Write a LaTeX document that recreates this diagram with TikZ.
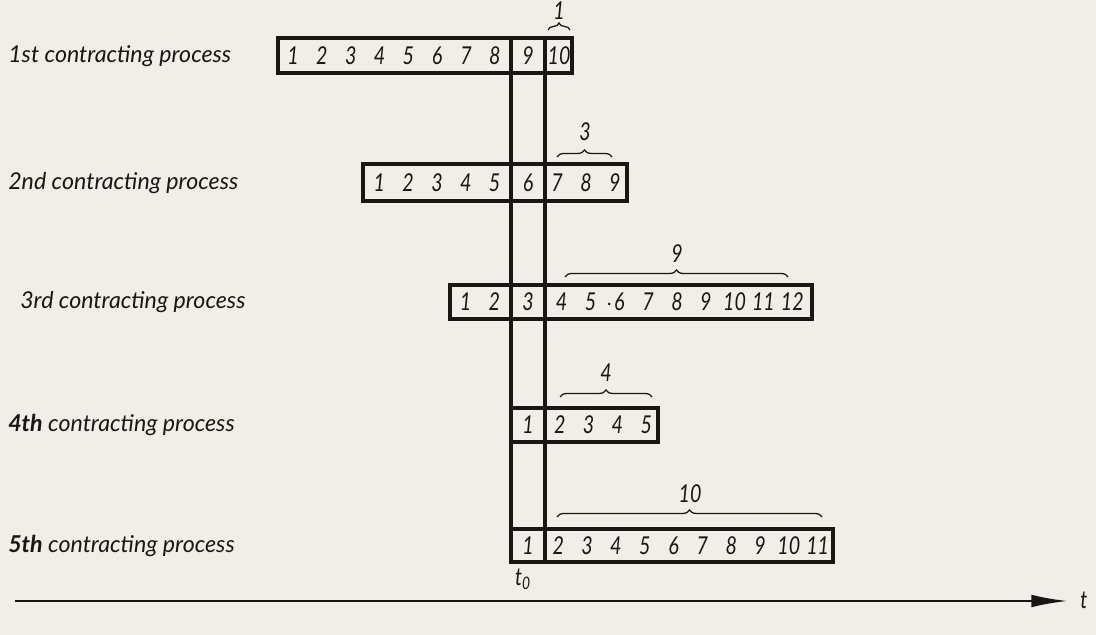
\documentclass[tikz,border=0pt]{standalone}
\usepackage{fontspec}
\setmainfont{Lato}
\newfontfamily\numfam[FakeStretch=0.8]{Lato}
\usetikzlibrary{arrows.meta,decorations.pathreplacing}
\definecolor{paper}{RGB}{241,238,231}
\definecolor{ink}{RGB}{25,22,22}
\newcommand\numf{\numfam\fontsize{17.5}{19}\selectfont\itshape}
\newcommand\lblf{\fontsize{16.5}{19}\selectfont\itshape}
\newcommand\seq[1]{\foreach \d in {#1}{\makebox[20.5pt]{\d}}}
\newcommand\dotsix{\makebox[0pt][r]{$\cdot$\hspace{1pt}}6}
\tikzset{
  rowlbl/.style={anchor=west,inner sep=0pt,font=\lblf,text=ink},
  cellbox/.style={draw=ink,line width=2.5pt},
  tline/.style={draw=ink,line width=2.3pt},
  num/.style={inner sep=0pt,font=\numf,text=ink},
  brc/.style={draw=ink,line width=0.9pt,decorate,decoration={brace,amplitude=5pt}},
  cnt/.style={inner sep=0pt,font=\numf,text=ink},
  axisarr/.style={draw=ink,line width=1.9pt,-{Latex[length=26pt,width=9pt]}}
}
\begin{document}
\begin{tikzpicture}[x=0.025cm,y=-0.025cm]
  \fill[paper] (0,0) rectangle (1096,635);
  \useasboundingbox (0,0) rectangle (1096,635);
  % row labels
  \node[rowlbl] (l1) at (8,56) {1st contracting process};
  \node[rowlbl] (l2) at (8,183) {2nd contracting process};
  \node[rowlbl] (l3) at (20,302) {3rd contracting process};
  \node[rowlbl] (l4) at (8,425) {\textbf{4th} contracting process};
  \node[rowlbl] (l5) at (8,546) {\textbf{5th} contracting process};
  % boxes
  \draw[cellbox] (278,38) rectangle (572,73);
  \draw[cellbox] (363,164) rectangle (627,201);
  \draw[cellbox] (450,285) rectangle (812,319);
  \draw[cellbox] (511,408) rectangle (658,442);
  \draw[cellbox] (511,529) rectangle (833,562);
  % the t0 column
  \draw[tline] (511,38) -- (511,562);
  \draw[tline] (545,38) -- (545,562);
  % cell contents
  \node[num] (a1) at (394,56) {\seq{1,2,3,4,5,6,7,8}};
  \node[num] (a2) at (528,56) {9};
  \node[num] (a3) at (559,56) {10};
  \node[num] (b1) at (437,183) {\seq{1,2,3,4,5}};
  \node[num] (b2) at (528,183) {6};
  \node[num] (b3) at (586,183) {\seq{7,8,9}};
  \node[num] (c1) at (480,302) {\seq{1,2}};
  \node[num] (c2) at (528,302) {3};
  \node[num] (c3) at (677,302) {\seq{4,5,\dotsix,7,8,9,10,11,12}};
  \node[num] (d1) at (528,425) {1};
  \node[num] (d2) at (603,425) {\seq{2,3,4,5}};
  \node[num] (e1) at (528,546) {1};
  \node[num] (e2) at (688,546) {\seq{2,3,4,5,6,7,8,9,10,11}};
  % braces with counts
  \draw[brc] (548,30) -- (570,30);
  \node[cnt] (n1) at (559,11) {1};
  \draw[brc] (557,157) -- (612,157);
  \node[cnt] (n2) at (585,132) {3};
  \draw[brc] (565,277) -- (788,277);
  \node[cnt] (n3) at (677,254) {9};
  \draw[brc] (560,397) -- (652,397);
  \node[cnt] (n4) at (606,373) {4};
  \draw[brc] (557,517) -- (822,517);
  \node[cnt] (n5) at (690,494) {10};
  \node[num] (t0) at (523,579) {t\textsubscript{0}};
  % time axis
  \coordinate (ax0) at (15,601);
  \coordinate (ax1) at (1068,601);
  \draw[axisarr] (ax0) -- (ax1);
  \node[num,anchor=west] (tt) at (1080,600) {t};
\end{tikzpicture}
\end{document}
